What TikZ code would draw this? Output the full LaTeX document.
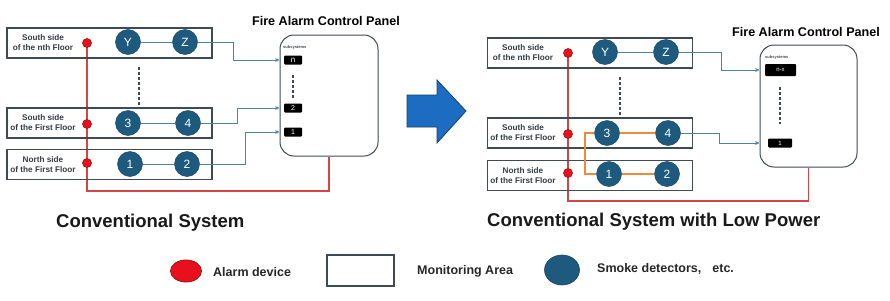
\documentclass[tikz,border=0pt]{standalone}
\usepackage{fontspec}
\setmainfont{Liberation Sans}
\usetikzlibrary{arrows.meta,shapes.geometric,backgrounds}
\definecolor{detblue}{HTML}{1E5A7D}
\definecolor{boxgray}{HTML}{3F4A55}
\definecolor{redln}{HTML}{D64545}
\definecolor{reddot}{HTML}{E8101C}
\definecolor{reddotb}{HTML}{A01010}
\definecolor{connblue}{HTML}{4A82A8}
\definecolor{orangeln}{HTML}{EE8A3A}
\definecolor{bigarrow}{HTML}{1C6DC2}
\definecolor{bigarrowb}{HTML}{17406E}
\tikzset{
  floorbox/.style={draw=boxgray, line width=1.3pt, minimum width=205pt, minimum height=30pt, inner sep=0pt},
  floorlbl/.style={align=center, font=\bfseries\fontsize{8.2}{10}\selectfont, text=boxgray!80!black, inner sep=0pt},
  det/.style={circle, fill=detblue, draw=detblue!80!black, line width=0.5pt, minimum size=25pt, inner sep=0pt, text=white, font=\fontsize{12}{12}\selectfont},
  alarmdot/.style={circle, fill=reddot, draw=reddotb, line width=0.6pt, minimum size=9pt, inner sep=0pt},
  conn/.style={draw=connblue, line width=1pt},
  connarrow/.style={conn, -{Stealth[length=4.5pt,width=4pt]}},
  redline/.style={draw=redln, line width=1.2pt},
  orangeline/.style={draw=orangeln, line width=1.8pt},
  dashv/.style={draw=boxgray, line width=1.2pt, dash pattern=on 3pt off 2pt},
  panel/.style={draw=boxgray, line width=1pt, rounded corners=14pt, fill=white, inner sep=0pt},
  subbox/.style={fill=black, rounded corners=1pt, inner sep=0pt, text=white},
  subtxt/.style={font=\bfseries\fontsize{4}{4}\selectfont, text=boxgray, inner sep=0pt, anchor=west},
  paneltitle/.style={font=\bfseries\fontsize{12.6}{14}\selectfont, inner sep=0pt},
  captiontxt/.style={font=\bfseries\fontsize{18.5}{22}\selectfont, inner sep=0pt, anchor=west, text=black!90},
  legendtxt/.style={font=\bfseries\fontsize{12.5}{14}\selectfont, inner sep=0pt, anchor=west, text=black!85}
}
\begin{document}
\begin{tikzpicture}[x=1pt,y=-1pt]
\path[use as bounding box] (0,0) rectangle (890,300);

% ===== Left: Conventional System =====
\node[floorbox] (LB1) at (109.5,43) {};
\node[floorbox] (LB2) at (109.5,123) {};
\node[floorbox] (LB3) at (109.5,164.5) {};
\node[floorlbl] (LT1) at (43,43) {South side\\of the nth Floor};
\node[floorlbl] (LT2) at (43,123) {South side\\of the First Floor};
\node[floorlbl] (LT3) at (43,164.5) {North side\\of the First Floor};

\node[panel, minimum width=98pt, minimum height=121pt] (LP) at (329,95.5) {};
\node[paneltitle] (LPT) at (326,21) {Fire Alarm Control Panel};
\node[subtxt] (LST) at (283,47) {subsystems};
\node[subbox, minimum width=18pt, minimum height=9pt, font=\fontsize{8}{8}\selectfont] (Lbn) at (293,60) {n};
\node[subbox, minimum width=18pt, minimum height=9pt, font=\fontsize{7}{7}\selectfont] (Lb2) at (293,108) {2};
\node[subbox, minimum width=18pt, minimum height=9pt, font=\fontsize{7}{7}\selectfont] (Lb1) at (293,132) {1};
\draw[dashv] (293,75) -- (293,98);

\node[det] (LY) at (128,42) {Y};
\node[det] (LZ) at (185,42) {Z};
\node[det] (L3) at (128,123) {3};
\node[det] (L4) at (188,123) {4};
\node[det] (L1) at (130,164) {1};
\node[det] (L2) at (187,164) {2};
\draw[dashv] (139,67) -- (139,105);

\node[alarmdot] (LaN) at (87,43) {};
\node[alarmdot] (LaS) at (87,124) {};
\node[alarmdot] (LaF) at (87,163) {};

\begin{pgfonlayer}{background}
\draw[redline] (LaN.center) -- (87,191) -| (LP.south);
\end{pgfonlayer}
\draw[conn] (LY) -- (LZ);
\draw[conn] (L3) -- (L4);
\draw[conn] (L1) -- (L2);
\draw[connarrow] (LZ) -- (233,42) |- (LP.west |- Lbn);
\draw[connarrow] (L4) -- (237,123) |- (LP.west |- Lb2);
\draw[connarrow] (L2) -- (245,164) |- (LP.west |- Lb1);

% ===== Big arrow =====
\draw[fill=bigarrow, draw=bigarrowb, line width=0.8pt, line join=miter]
  (407,95) -- (437,95) -- (437,80) -- (466,111) -- (437,143) -- (437,127) -- (407,127) -- cycle;

% ===== Right: Conventional System with Low Power =====
\node[floorbox] (RB1) at (590,53) {};
\node[floorbox] (RB2) at (590,133) {};
\node[floorbox] (RB3) at (590,175.5) {};
\node[floorlbl] (RT1) at (523,53) {South side\\of the nth Floor};
\node[floorlbl] (RT2) at (523,133) {South side\\of the First Floor};
\node[floorlbl] (RT3) at (523,175.5) {North side\\of the First Floor};

\node[panel, minimum width=97pt, minimum height=122pt] (RP) at (808.5,106) {};
\node[paneltitle] (RPT) at (806,32) {Fire Alarm Control Panel};
\node[subtxt] (RST) at (765,57) {subsystems};
\node[subbox, minimum width=31pt, minimum height=12pt, font=\fontsize{6}{6}\selectfont] (Rbn) at (780.5,70) {n-x};
\node[subbox, minimum width=24pt, minimum height=9pt, font=\fontsize{6}{6}\selectfont] (Rb1) at (780,143) {1};
\draw[dashv] (780,87) -- (780,124);

\node[det] (RY) at (605,52) {Y};
\node[det] (RZ) at (666,52) {Z};
\node[det] (R3) at (607,133) {3};
\node[det] (R4) at (668,133) {4};
\node[det] (R1) at (609,174) {1};
\node[det] (R2) at (667,174) {2};
\draw[dashv] (620,77) -- (620,115);

\node[alarmdot] (RaN) at (568,53) {};
\node[alarmdot] (RaS) at (568,134) {};
\node[alarmdot] (RaF) at (568,173) {};

\begin{pgfonlayer}{background}
\draw[redline] (RaN.center) -- (568,201) -| (RP.south);
\end{pgfonlayer}
\draw[conn] (RY) -- (RZ);
\draw[connarrow] (RZ) -- (721,52) |- (RP.west |- Rbn);
\draw[connarrow] (R4) -- (719,133) |- (RP.west |- Rb1);
\draw[orangeline] (R3) -- (R4);
\draw[orangeline] (R1) -- (R2);
\draw[orangeline] (R3.west) -- (585,133) |- (R1.west);

% ===== Captions =====
\node[captiontxt] (C1) at (56,223) {Conventional System};
\node[captiontxt] (C2) at (487,222) {Conventional System with Low Power};

% ===== Legend =====
\node[ellipse, fill=reddot, draw=reddotb, line width=0.8pt, minimum width=31pt, minimum height=22pt, inner sep=0pt] (GA) at (186,271) {};
\node[legendtxt] (GAt) at (213,272) {Alarm device};
\node[draw=boxgray, line width=1.3pt, minimum width=67pt, minimum height=31pt, inner sep=0pt] (GM) at (360.5,270.5) {};
\node[legendtxt] (GMt) at (417,271) {Monitoring Area};
\node[ellipse, fill=detblue, draw=detblue!80!black, line width=0.6pt, minimum width=35pt, minimum height=30pt, inner sep=0pt] (GS) at (562,270) {};
\node[legendtxt] (GSt) at (597,269) {Smoke detectors,\hspace{11pt}etc.};
\end{tikzpicture}
\end{document}
